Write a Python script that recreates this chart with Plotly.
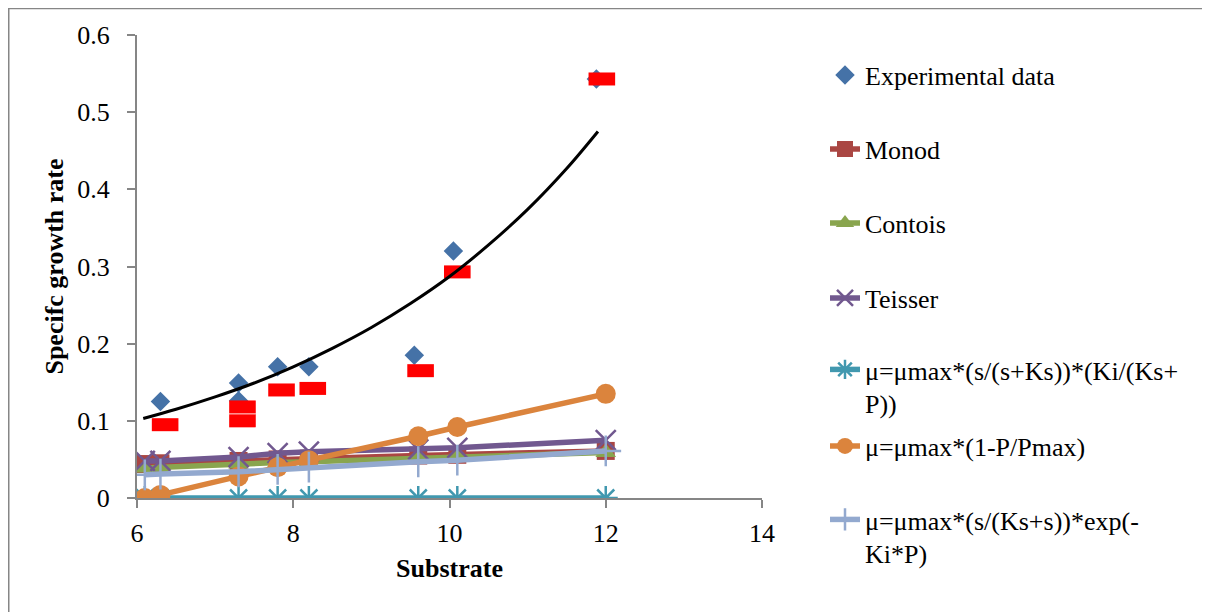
import plotly.graph_objects as go

# ---- data ----
exp_x = [6.3, 7.3, 7.3, 7.8, 8.2, 9.55, 10.05, 11.88]
exp_y = [0.125, 0.149, 0.126, 0.170, 0.170, 0.185, 0.320, 0.543]

red_x = [6.36, 7.35, 7.35, 7.85, 8.25, 9.63, 10.1, 11.95]
red_y = [0.095, 0.118, 0.100, 0.140, 0.142, 0.165, 0.293, 0.543]

trend_x = [6.08, 6.5, 7.0, 7.5, 8.0, 8.5, 9.0, 9.5, 10.0, 10.5, 11.0, 11.5, 11.9]
trend_y = [0.103, 0.115, 0.131, 0.149, 0.170, 0.194, 0.221, 0.252, 0.287, 0.328, 0.374, 0.427, 0.475]

model_x = [6.1, 6.3, 7.3, 7.8, 8.2, 9.6, 10.1, 12.0]
monod = [0.044, 0.045, 0.048, 0.050, 0.051, 0.055, 0.056, 0.061]
contois = [0.039, 0.040, 0.044, 0.046, 0.047, 0.052, 0.053, 0.059]
teisser = [0.048, 0.048, 0.053, 0.058, 0.060, 0.063, 0.065, 0.075]
inhib_ks = [0, 0, 0, 0, 0, 0, 0, 0]
pmax = [0.000, 0.004, 0.028, 0.040, 0.049, 0.080, 0.092, 0.135]
expinh = [0.030, 0.031, 0.034, 0.037, 0.040, 0.047, 0.049, 0.061]

x_ticks = [6, 8, 10, 12, 14]
y_ticks = [0, 0.1, 0.2, 0.3, 0.4, 0.5, 0.6]

names = [
    "Experimental data",
    "Monod",
    "Contois",
    "Teisser",
    "μ=μmax*(s/(s+Ks))*(Ki/(Ks+<br>P))",
    "μ=μmax*(1-P/Pmax)",
    "μ=μmax*(s/(Ks+s))*exp(-<br>Ki*P)",
]

FONT = "Liberation Serif"
FS = 26

fig = go.Figure()

series = [
    (monod, "#AA4643", "square", 18, 0, "legend2", names[1]),
    (contois, "#89A54E", "triangle-up", 18, 0, "legend3", names[2]),
    (teisser, "#71588F", "x-thin", 20, 2.5, "legend4", names[3]),
    (inhib_ks, "#4198AF", "asterisk", 20, 2.5, "legend5", names[4]),
    (pmax, "#DB843D", "circle", 20, 0, "legend6", names[5]),
    (expinh, "#93A9CF", "cross-thin", 22, 2.5, "legend7", names[6]),
]

fig.add_trace(go.Scatter(
    x=exp_x, y=exp_y, mode="markers", name=names[0], legend="legend",
    marker=dict(symbol="diamond", size=15, color="#4572A7"),
))

for ys, col, sym, sz, lw, lg, nm in series:
    fig.add_trace(go.Scatter(
        x=model_x, y=ys, mode="lines+markers", name=nm, legend=lg,
        line=dict(color=col, width=5.5),
        marker=dict(symbol=sym, size=sz, color=col,
                    line=dict(color=col, width=lw)),
    ))

fig.add_trace(go.Scatter(
    x=red_x, y=red_y, mode="markers", showlegend=False,
    marker=dict(symbol="line-ew", size=19, color="#FF0000",
                line=dict(color="#FF0000", width=13)),
))

fig.add_trace(go.Scatter(
    x=trend_x, y=trend_y, mode="lines", showlegend=False,
    line=dict(color="#000000", width=3, shape="spline"),
))

axis_common = dict(
    showgrid=False, zeroline=False, showline=True,
    linecolor="#868686", linewidth=2,
    ticks="outside", ticklen=8, tickcolor="#868686", tickwidth=2,
    tickfont=dict(family=FONT, size=FS, color="#000000"),
)

# plot area in figure pixels: x 129..754, y 27..490 (page adds an 8px body margin)
fig.update_layout(
    width=1210, height=612,
    paper_bgcolor="white", plot_bgcolor="white",
    margin=dict(l=129, r=456, t=27, b=122),
    font=dict(family=FONT, size=FS, color="#000000"),
    xaxis=dict(range=[6, 14], tickvals=x_ticks, ticklabelstandoff=3,
               title=dict(text="<b>Substrate</b>", standoff=12,
                          font=dict(family=FONT, size=FS)),
               **axis_common),
    yaxis=dict(range=[0, 0.6], tickvals=y_ticks, ticklabelstandoff=12,
               title=dict(text="<b>Specifc growth rate</b>", standoff=6,
                          font=dict(family=FONT, size=FS)),
               **axis_common),
)

ycent = [0.9136, 0.7538, 0.5940, 0.4320, 0.2408, 0.1123, -0.0832]
leg_keys = ["legend", "legend2", "legend3", "legend4", "legend5", "legend6", "legend7"]
for key, yc in zip(leg_keys, ycent):
    fig.update_layout(**{key: dict(
        x=1.1008, xanchor="left", y=yc, yanchor="middle",
        bgcolor="rgba(0,0,0,0)", valign="top",
        font=dict(family=FONT, size=FS, color="#000000"),
    )})

fig.add_shape(type="rect", xref="paper", yref="paper",
              x0=-0.2052, x1=1.75, y0=1.057, y1=-0.30,
              line=dict(color="#868686", width=1.5), fillcolor="rgba(0,0,0,0)")

fig.write_html("out.html")
